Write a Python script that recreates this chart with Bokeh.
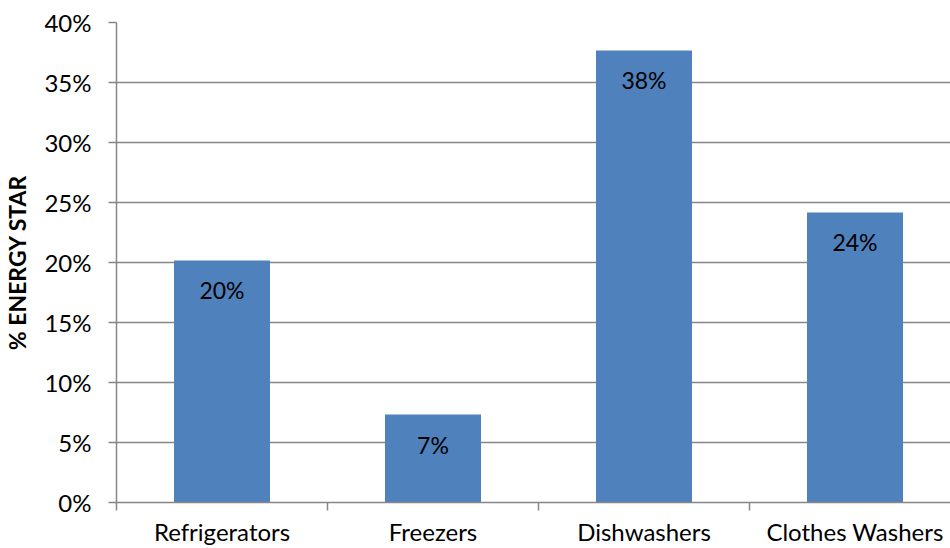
from bokeh.plotting import figure
from bokeh.models import ColumnDataSource, FixedTicker, NumeralTickFormatter, Range1d
from bokeh.core.properties import value
from bokeh.embed import file_html
from bokeh.resources import INLINE

categories = ["Refrigerators", "Freezers", "Dishwashers", "Clothes Washers"]
shares = [0.2017, 0.0733, 0.3767, 0.2417]
labels = ["20%", "7%", "38%", "24%"]
y_ticks = [0, 0.05, 0.10, 0.15, 0.20, 0.25, 0.30, 0.35, 0.40]

FONT = "Lato"
GRID = "#868686"

xs = [i + 0.5 for i in range(len(categories))]
src = ColumnDataSource(dict(x=xs, top=shares, label=labels, cat=categories))

p = figure(width=950, height=548, output_backend="svg", toolbar_location=None,
           x_range=Range1d(0, 834 / 211), y_range=Range1d(0, 0.40),
           min_border_left=116, min_border_right=0, min_border_top=22, min_border_bottom=46)
p.outline_line_color = None
p.background_fill_color = "white"

p.vbar(x="x", top="top", width=0.455, source=src, fill_color="#4F81BD", line_color=None)
p.text(x="x", y="top", text="label", source=src, text_align="center", text_baseline="middle",
       y_offset=30, text_font=value(FONT), text_font_size="23px", text_color="black")

# y axis
p.yaxis.ticker = FixedTicker(ticks=y_ticks)
p.yaxis.formatter = NumeralTickFormatter(format="0%")
p.yaxis.axis_label = "% ENERGY STAR"
p.yaxis.axis_label_text_font = FONT
p.yaxis.axis_label_text_font_style = "bold"
p.yaxis.axis_label_text_font_size = "23px"
p.yaxis.axis_label_text_color = "black"
p.yaxis.axis_label_standoff = 10
p.yaxis.major_label_text_font = FONT
p.yaxis.major_label_text_font_size = "24px"
p.yaxis.major_label_text_color = "black"
p.yaxis.major_label_standoff = 17
p.yaxis.major_tick_out = 8
p.yaxis.major_tick_in = 0
p.yaxis.minor_tick_out = 0
p.yaxis.minor_tick_in = 0
p.yaxis.axis_line_color = GRID
p.yaxis.major_tick_line_color = GRID
p.yaxis.axis_line_width = 1.5
p.yaxis.major_tick_line_width = 1.5

# x axis: labels at centres, tick marks at category boundaries
p.xaxis.ticker = FixedTicker(ticks=xs, minor_ticks=list(range(len(categories) + 1)))
p.xaxis.major_label_overrides = {x: c for x, c in zip(xs, categories)}
p.xaxis.major_tick_out = 0
p.xaxis.major_tick_in = 0
p.xaxis.minor_tick_out = 8
p.xaxis.minor_tick_in = 0
p.xaxis.minor_tick_line_color = GRID
p.xaxis.minor_tick_line_width = 1.5
p.xaxis.axis_line_color = GRID
p.xaxis.axis_line_width = 1.5
p.xaxis.major_label_text_font = FONT
p.xaxis.major_label_text_font_size = "24px"
p.xaxis.major_label_text_color = "black"
p.xaxis.major_label_standoff = 6

p.xgrid.grid_line_color = None
p.ygrid.ticker = FixedTicker(ticks=y_ticks)
p.ygrid.grid_line_color = GRID
p.ygrid.grid_line_width = 1.5

open("out.html", "w").write(file_html(p, INLINE))
